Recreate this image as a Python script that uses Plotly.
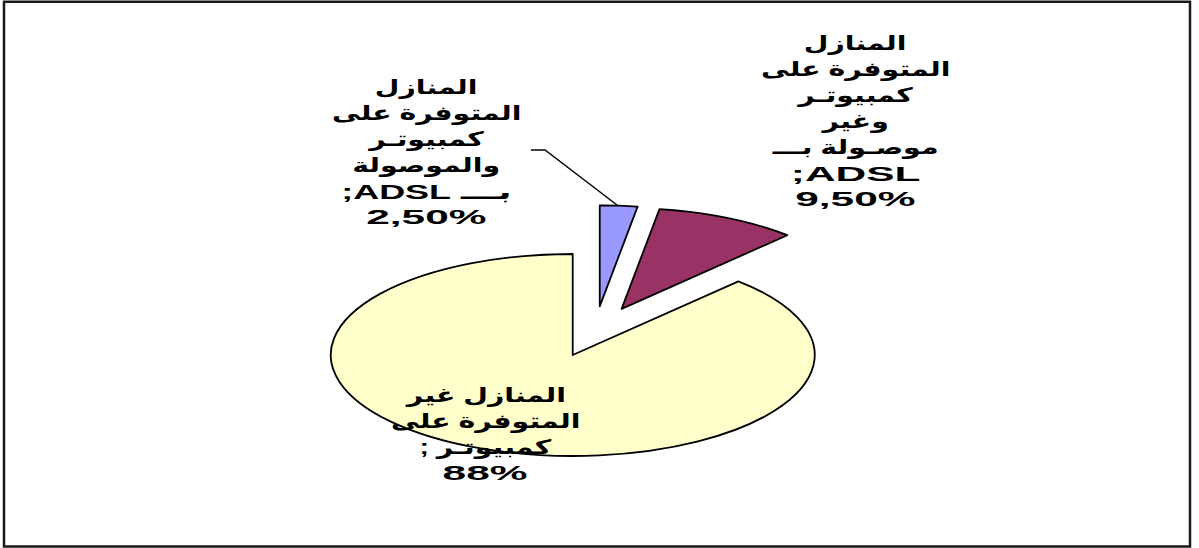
import json
import re
import plotly.graph_objects as go

# ---------------- data ----------------
categories = [
    "المنازل المتوفرة على كمبيوتـر والموصولة بـــ ADSL",
    "المنازل المتوفرة على كمبيوتـر وغير موصـولة بـــ ADSL",
    "المنازل غير المتوفرة على كمبيوتـر",
]
values = [2.5, 9.5, 88]
value_labels = ["2,50%", "9,50%", "88%"]
label_lines = [
    ["المنازل", "المتوفرة على", "كمبيوتـر", "والموصولة", "بـــ ADSL;"],
    ["المنازل", "المتوفرة على", "كمبيوتـر", "وغير", "موصـولة بـــ", "ADSL;"],
    ["المنازل غير", "المتوفرة على", "كمبيوتـر ;"],
]
colors = ["#9999FF", "#993366", "#FFFFCC"]

# ---------------- layout / style constants ----------------
W, H = 1199, 548
PIE_CX, PIE_CY = 595, 331.5          # pixel centre of the unexploded pie
BOX = 432                             # pie domain box size (px)
PULL = 0.25
ELL_RX, ELL_RY = 242, 101             # on-screen ellipse semi-axes
LINE_H = 26                           # label line spacing (px)
FONT_SIZE = 20
STRETCH_AR, STRETCH_LAT, STRETCH_MIX = 1.42, 2.12, 1.8
label_pos = [(426, 152.5), (855, 121.5), (485, 434)]


def px(x):
    return x / W


def py(y):
    return 1 - y / H


def stretch_for(s):
    has_ar = re.search("[\u0600-\u06FF]", s) is not None
    has_lat = re.search("[A-Za-z0-9]", s) is not None
    if has_ar and has_lat:
        return STRETCH_MIX
    if has_lat:
        return STRETCH_LAT
    return STRETCH_AR


fig = go.Figure()
fig.add_trace(go.Pie(
    labels=categories,
    values=values,
    sort=False,
    direction="clockwise",
    rotation=0,
    pull=[PULL] * len(values),
    marker=dict(colors=colors, line=dict(color="#000000", width=1.8)),
    textinfo="none",
    hoverinfo="skip",
    showlegend=False,
    domain=dict(
        x=[px(PIE_CX - BOX / 2), px(PIE_CX + BOX / 2)],
        y=[(H - PIE_CY - BOX / 2) / H, (H - PIE_CY + BOX / 2) / H],
    ),
))

RLE, PDF = "\u202B", "\u202C"
stretches = []
for lines, val, (lx, ly) in zip(label_lines, value_labels, label_pos):
    all_lines = lines + [val]
    n = len(all_lines)
    for i, s in enumerate(all_lines):
        yline = ly + (i - (n - 1) / 2) * LINE_H
        fig.add_annotation(
            x=px(lx), y=py(yline), xref="paper", yref="paper",
            xanchor="center", yanchor="middle", align="center",
            text="<b>" + RLE + s + PDF + "</b>", showarrow=False,
            font=dict(family="Liberation Sans, DejaVu Sans, Arial",
                      size=FONT_SIZE, color="#000000"),
        )
        stretches.append(stretch_for(s))

# leader line for the small slice
fig.add_shape(
    type="path", xref="paper", yref="paper", layer="above",
    path=f"M {px(531)} {py(150)} L {px(545)} {py(150)} L {px(617)} {py(205)}",
    line=dict(color="#000000", width=1.5),
)
# chart frame
fig.add_shape(
    type="rect", xref="paper", yref="paper", layer="above",
    x0=px(4), x1=px(1190), y0=py(546.5), y1=py(1.8),
    line=dict(color="#1a1a1a", width=2.5), fillcolor="rgba(0,0,0,0)",
)

fig.update_layout(
    width=W, height=H,
    margin=dict(l=0, r=0, t=0, b=0),
    paper_bgcolor="#FFFFFF", plot_bgcolor="#FFFFFF",
    showlegend=False,
)

js = """
var gd = document.getElementById('{plot_id}');
var STRETCH = __ST__;
function squashPie() {
  var layer = gd.querySelector('.pielayer');
  if (layer) {
    var cd = gd.calcdata && gd.calcdata[0] && gd.calcdata[0][0];
    var cx = (cd && cd.cx !== undefined) ? cd.cx : __CX__;
    var cy = (cd && cd.cy !== undefined) ? cd.cy : __CY__;
    var r = (cd && cd.r) ? cd.r : __R__;
    var sx = __RX__ / r, sy = __RY__ / r;
    layer.setAttribute('transform', 'translate(' + cx + ',' + cy + ') scale(' + sx + ',' + sy + ') translate(' + (-cx) + ',' + (-cy) + ')');
    layer.querySelectorAll('path').forEach(function (p) {
      p.setAttribute('vector-effect', 'non-scaling-stroke');
      p.style.vectorEffect = 'non-scaling-stroke';
    });
  }
  gd.querySelectorAll('g.annotation').forEach(function (g) {
    var idx = +g.getAttribute('data-index');
    var t = g.querySelector('.annotation-text');
    if (!t) return;
    var s = STRETCH[idx] || 1;
    t.style.transformBox = 'fill-box';
    t.style.transformOrigin = 'center';
    t.style.transform = 'scaleX(' + s + ')';
  });
}
squashPie();
gd.on('plotly_afterplot', squashPie);
"""
js = (js.replace("__CX__", str(PIE_CX)).replace("__CY__", str(PIE_CY))
        .replace("__R__", str(BOX / 2 / (1 + PULL)))
        .replace("__RX__", str(ELL_RX)).replace("__RY__", str(ELL_RY))
        .replace("__ST__", json.dumps(stretches)))

fig.write_html("out.html", config={"displayModeBar": False}, post_script=js)
